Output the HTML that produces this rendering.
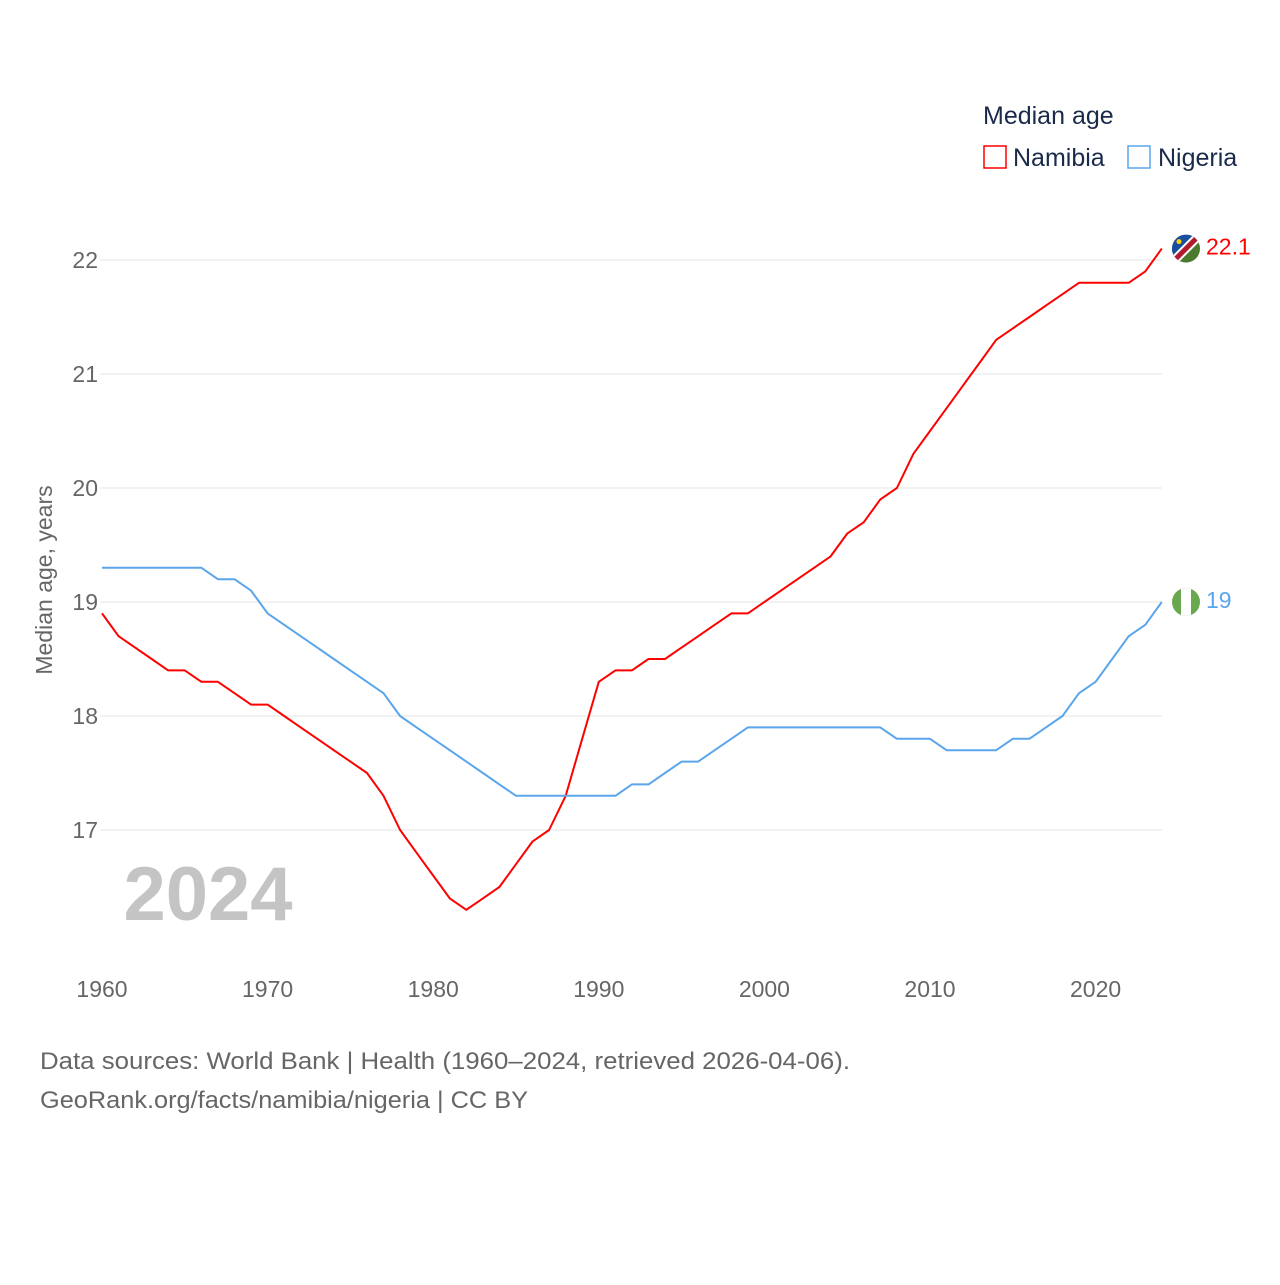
<!DOCTYPE html>
<html><head><meta charset="utf-8"><style>
body{margin:0;background:#fff;font-family:"Liberation Sans",sans-serif;}
svg text{font-family:"Liberation Sans",sans-serif;}
</style></head><body>
<svg id="chart" width="1280" height="1280" viewBox="0 0 1280 1280">
<rect width="1280" height="1280" fill="#fff"/>
<g id="grid"></g>
<g id="xticks"></g>
<text x="52" y="580" transform="rotate(-90 52 580)" text-anchor="middle" font-size="23" fill="#666">Median age, years</text>
<text x="208" y="920" text-anchor="middle" font-size="76" font-weight="bold" fill="#c4c4c4">2024</text>
<g id="lines"></g>
<text x="983" y="124" font-size="25" fill="#1a2a4a">Median age</text>
<g>
<rect x="984" y="146" width="22" height="22" fill="none" stroke="#ff0000" stroke-width="1.5"/>
<text x="1013" y="166" font-size="25" fill="#1a2a4a">Namibia</text></g>
<g>
<rect x="1128" y="146" width="22" height="22" fill="none" stroke="#5aa5ec" stroke-width="1.5"/>
<text x="1158" y="166" font-size="25" fill="#1a2a4a">Nigeria</text></g>
<text x="40" y="1069" font-size="24" fill="#666" textLength="810" lengthAdjust="spacingAndGlyphs">Data sources: World Bank | Health (1960–2024, retrieved 2026-04-06).</text>
<text x="40" y="1108" font-size="24" fill="#666" textLength="488" lengthAdjust="spacingAndGlyphs">GeoRank.org/facts/namibia/nigeria | CC BY</text>
</svg>
<script>
const years=[];for(let y=1960;y<=2024;y++)years.push(y);
const namibia=[18.9,18.7,18.6,18.5,18.4,18.4,18.3,18.3,18.2,18.1,18.1,18.0,17.9,17.8,17.7,17.6,17.5,17.3,17.0,16.8,16.6,16.4,16.3,16.4,16.5,16.7,16.9,17.0,17.3,17.8,18.3,18.4,18.4,18.5,18.5,18.6,18.7,18.8,18.9,18.9,19.0,19.1,19.2,19.3,19.4,19.6,19.7,19.9,20.0,20.3,20.5,20.7,20.9,21.1,21.3,21.4,21.5,21.6,21.7,21.8,21.8,21.8,21.8,21.9,22.1];
const nigeria=[19.3,19.3,19.3,19.3,19.3,19.3,19.3,19.2,19.2,19.1,18.9,18.8,18.7,18.6,18.5,18.4,18.3,18.2,18.0,17.9,17.8,17.7,17.6,17.5,17.4,17.3,17.3,17.3,17.3,17.3,17.3,17.3,17.4,17.4,17.5,17.6,17.6,17.7,17.8,17.9,17.9,17.9,17.9,17.9,17.9,17.9,17.9,17.9,17.8,17.8,17.8,17.7,17.7,17.7,17.7,17.8,17.8,17.9,18.0,18.2,18.3,18.5,18.7,18.8,19.0];
const yTicks=[17,18,19,20,21,22];
const xTicks=[1960,1970,1980,1990,2000,2010,2020];
const NS="http://www.w3.org/2000/svg";
const X=y=>102+(y-1960)*16.56;
const Y=v=>260-(v-22)*114;
function mk(t,a,p){const e=document.createElementNS(NS,t);for(const k in a)e.setAttribute(k,a[k]);p.appendChild(e);return e;}
const grid=document.getElementById('grid');
yTicks.forEach(v=>{
const l=mk('line',{x1:100,x2:1162,y1:Y(v),y2:Y(v),stroke:'#e6e6e6','stroke-width':1},grid);


const t=mk('text',{x:98,y:Y(v)+8,'text-anchor':'end','font-size':23,fill:'#666'},grid);


t.textContent=v;});
const xt=document.getElementById('xticks');
xTicks.forEach(v=>{
const t=mk('text',{x:X(v),y:997,'text-anchor':'middle','font-size':23,fill:'#666'},xt);


t.textContent=v;});
const lines=document.getElementById('lines');
function series(vals,color,name){
const d=vals.map((v,i)=>(i?'L':'M')+X(years[i]).toFixed(1)+','+Y(v).toFixed(1)).join(' ');
const p=mk('path',{d:d,fill:'none',stroke:color,'stroke-width':2,'stroke-linejoin':'round'},lines);


const last=vals[vals.length-1];
const t=mk('text',{x:1206,y:Y(last)+6,'font-size':23,fill:color},lines);


t.textContent=last;
return Y(last);}
const yn=series(namibia,'#ff0000','namibia');
const yg=series(nigeria,'#5aa5ec','nigeria');
const fn=mk('g',{},lines);


fn.innerHTML=`<clipPath id="cn"><circle cx="1186" cy="${yn}" r="14"/></clipPath><g clip-path="url(#cn)"><rect x="1172" y="${yn-14}" width="28" height="28" fill="#4a7a2e"/><polygon points="1172,${yn-14} 1200,${yn-14} 1172,${yn+14}" fill="#1a4fa0"/><line x1="1200" y1="${yn-14}" x2="1172" y2="${yn+14}" stroke="#fff" stroke-width="9"/><line x1="1200" y1="${yn-14}" x2="1172" y2="${yn+14}" stroke="#b01c2e" stroke-width="5"/><circle cx="1179" cy="${yn-7}" r="2.5" fill="#ffce00"/></g>`;
const fg=mk('g',{},lines);


fg.innerHTML=`<clipPath id="cg"><circle cx="1186" cy="${yg}" r="14"/></clipPath><g clip-path="url(#cg)"><rect x="1172" y="${yg-14}" width="28" height="28" fill="#6aa84f"/><rect x="1181" y="${yg-14}" width="10" height="28" fill="#fff"/></g>`;
</script>
</body></html>
